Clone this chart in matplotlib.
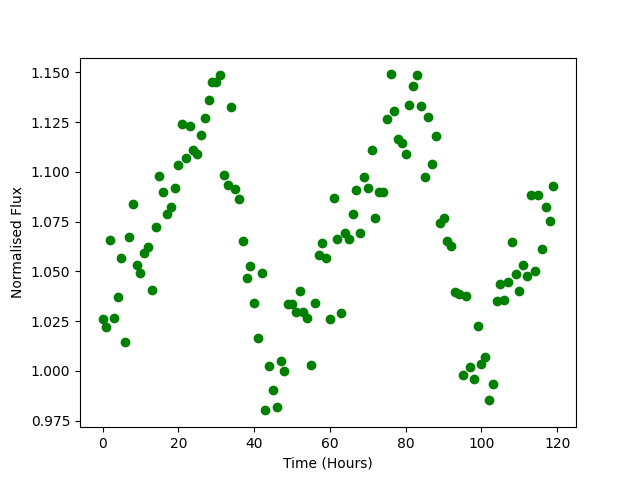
import matplotlib
matplotlib.use("Agg")
import matplotlib.pyplot as plt
import numpy as np

hours = list(range(120))
flux = [
    1.0259, 1.0219, 1.0660, 1.0265, 1.0374, 1.0570, 1.0148, 1.0675, 1.0841, 1.0530,
    1.0490, 1.0593, 1.0625, 1.0409, 1.0722, 1.0982, 1.0901, 1.0789, 1.0824, 1.0918,
    1.1037, 1.1239, 1.1072, 1.1233, 1.1112, 1.1092, 1.1187, 1.1273, 1.1363, 1.1453,
    1.1450, 1.1485, 1.0987, 1.0936, 1.1328, 1.0916, 1.0866, 1.0655, 1.0465, 1.0525,
    1.0344, 1.0164, 1.0491, 0.9802, 1.0025, 0.9903, 0.9817, 1.0050, 1.0001, 1.0339,
    1.0336, 1.0297, 1.0404, 1.0296, 1.0264, 1.0028, 1.0344, 1.0585, 1.0645, 1.0570,
    1.0259, 1.0871, 1.0665, 1.0289, 1.0694, 1.0665, 1.0791, 1.0911, 1.0692, 1.0977,
    1.0921, 1.1109, 1.0771, 1.0901, 1.0901, 1.1268, 1.1490, 1.1308, 1.1164, 1.1147,
    1.1092, 1.1338, 1.1433, 1.1485, 1.1333, 1.0977, 1.1278, 1.1042, 1.1182, 1.0744,
    1.0769, 1.0655, 1.0630, 1.0396, 1.0389, 0.9979, 1.0379, 1.0020, 0.9958, 1.0225,
    1.0033, 1.0070, 0.9852, 0.9934, 1.0351, 1.0435, 1.0356, 1.0448, 1.0650, 1.0485,
    1.0401, 1.0530, 1.0475, 1.0883, 1.0501, 1.0886, 1.0615, 1.0822, 1.0751, 1.0931,
]

fig, ax = plt.subplots(figsize=(6.4, 4.8), dpi=100)
ax.plot(hours, flux, 'o', color='green', linestyle='none')
ax.set_xlabel('Time (Hours)')
ax.set_ylabel('Normalised Flux')
fig.savefig('out.png', dpi=100)
